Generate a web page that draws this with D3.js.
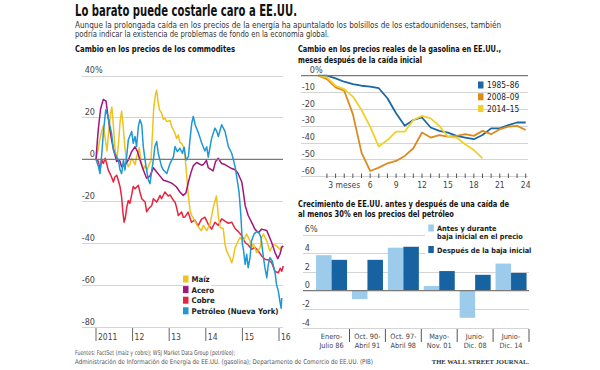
<!DOCTYPE html>
<html lang="es">
<head>
<meta charset="utf-8">
<title>Lo barato puede costarle caro a EE.UU.</title>
<style>
  body { margin:0; background:#fff; }
  svg { display:block; font-family:"Liberation Sans Narrow","DejaVu Sans Condensed",sans-serif; }
  .grid { stroke:#d4d4d4; stroke-width:1; shape-rendering:crispEdges; }
  .zero { stroke:#7a7a7a; stroke-width:1.2; }
  .tick { font-size:9px; fill:#444; }
  .hed { font-weight:bold; fill:#111; }
</style>
</head>
<body>
<div id="chart"></div>
<script src="https://d3js.org/d3.v7.min.js"></script>
<script>
// --- commodities: [months since Jan 2011, % change]
var maiz = [[0,0],[0.6,4],[1.2,9],[1.8,13],[2.4,16],[3.0,10],[3.6,4],[4.2,14],[4.8,22],[5.2,25],[5.6,18],[6.2,6],[6.8,-1],[7.4,8],[7.9,18],[8.4,23],[8.9,16],[9.5,5],[10.1,-1],[10.6,-3.5],[11.2,-2],[11.7,0.5],[12.3,-1],[12.8,-2.5],[13.3,1],[14.2,5.5],[14.7,-0.5],[15.5,-5],[16.1,-3],[16.8,-5],[17.5,-2],[18.0,-1],[18.5,12],[18.9,24],[19.5,31],[19.9,33],[20.3,28],[20.8,23.7],[21.5,22],[22.1,19],[22.6,19.7],[23.2,18],[24.3,18.5],[24.8,15.7],[25.4,14],[25.9,12.5],[26.4,10],[27,11.7],[27.5,8],[28.1,7.7],[28.6,6],[29.2,1.3],[29.7,-7],[30.2,-16],[30.8,-24],[31.4,-27],[31.9,-28],[33,-31],[34.1,-33.3],[34.6,-34],[35.2,-31.5],[36.3,-34],[37.4,-30.8],[38.5,-22.8],[39,-20],[39.5,-17.5],[40.1,-27],[40.7,-32.5],[41.7,-33],[42.3,-40.5],[42.8,-43.7],[43.9,-46.9],[44.5,-49.3],[45,-46.9],[45.6,-42.1],[46.1,-40.5],[47.2,-37.3],[48.3,-38.9],[49.4,-35.7],[50.5,-38.9],[51,-42.1],[51.6,-40.5],[52.7,-44.5],[53.8,-42.1],[54.3,-37.3],[54.9,-35.7],[56,-38.9],[57,-43.7],[58.1,-40.5],[59.2,-41.3],[60.3,-42.9],[60.9,-41.3]];
var acero = [[0,0],[0.4,8],[0.8,15],[1.5,24],[2.4,28.6],[3.3,27.8],[3.8,22],[4.4,15.7],[5.1,9.3],[5.9,3.7],[6.8,-1],[7.7,-0.3],[8.4,-3.5],[9.5,-2.7],[10.6,-0.3],[11.7,3.7],[12.8,6],[13.6,3.7],[14.4,-0.3],[15.5,-5],[16.6,-9],[17.7,-8],[18.8,-4],[19.9,-6],[21,-8],[22.1,-10],[23.2,-10.5],[24.3,-11],[25.4,-12],[26.4,-13.2],[27.5,-15.6],[28.6,-17.2],[29.5,-16],[30.3,-10.8],[31.2,-6],[31.9,-3],[33,-1.5],[34.6,-2.8],[35.2,-2.5],[36.2,-0.5],[36.8,-4],[38.4,-5.5],[39.2,-1],[40.1,0.5],[41.2,-2],[42.3,-2.5],[43.4,-3.5],[44.5,-4.4],[45.6,-5],[46.5,-6.5],[47.8,-10.8],[48.3,-15.6],[48.9,-22],[49.9,-26.8],[51,-30],[52.1,-33.3],[53.2,-35],[54.3,-33.3],[56,-34],[57.6,-39.7],[58.7,-44.5],[59.6,-47.4],[60.3,-45.3],[60.9,-42],[61.4,-41.3]];
var cobre = [[0,0],[0.8,-1],[1.3,-5],[1.9,-0.3],[2.4,-2],[3,0.5],[3.5,-2],[4,-5],[4.6,-6.8],[5.1,-8.4],[5.7,-10.8],[6.2,-8.4],[6.8,-7.6],[7.3,-10],[7.9,-13.2],[8.4,-18],[8.8,-25],[9.2,-30],[9.6,-28],[10.1,-22.8],[10.6,-19.6],[11.1,-21],[11.7,-17],[12.2,-13],[12.8,-14],[13.9,-12.4],[14.4,-15.6],[15,-18.8],[16.1,-20.4],[16.6,-25],[17.2,-23.6],[18.3,-22],[18.8,-18.8],[19.9,-20.4],[21,-17.2],[21.5,-18.8],[22.6,-15.6],[23.7,-17.5],[24.3,-17],[25.4,-19.6],[25.9,-20.4],[26.4,-22.8],[27,-26.8],[28.1,-25.2],[28.6,-27.6],[29.2,-27.5],[30.2,-25.2],[31.3,-30],[32.4,-29],[33.5,-31.7],[34.6,-28.5],[35.7,-27.6],[36.8,-31],[37.9,-33.3],[39,-30],[40.1,-31.5],[41.2,-28.4],[42.3,-29.5],[43.4,-30.5],[44.5,-30],[45.6,-33],[46.7,-34.5],[47.8,-36.5],[48.9,-39.7],[50,-41],[51,-42.9],[52.1,-42],[53.2,-43.7],[54.3,-46.1],[55.4,-47.7],[56.5,-48],[57.6,-49.3],[58.7,-53.5],[59.8,-54.1],[60.4,-52],[60.9,-53.4],[61.4,-50.9]];
var petroleo = [[0,0],[0.8,-3.5],[1.3,-6.8],[1.9,2.8],[2.4,12.5],[3.2,23.7],[3.8,21.3],[4.6,15.7],[5.1,12.5],[5.7,4.5],[6.4,2.1],[7.3,-0.3],[7.9,-5.1],[8.4,-6.8],[9,-0.3],[9.5,-5.1],[10.1,2.1],[10.6,9.3],[11.7,13.3],[12.2,7.7],[12.8,10.9],[13.3,6.1],[13.9,15.7],[14.4,18.9],[15,16.5],[15.5,6.1],[16.4,-3.5],[17.2,-10],[17.7,-11.6],[18.3,-5.1],[18.8,-0.3],[19.3,6.1],[19.9,8.5],[20.4,2.9],[21.5,-3.5],[22.1,-5.1],[23.2,-6.8],[24.3,-1.9],[25.4,1.3],[25.9,6.1],[26.7,3.7],[27.5,5.3],[28.3,2.9],[28.9,5.8],[29.5,-0.3],[30.3,1.3],[30.8,9.3],[31.4,17.3],[31.9,20.5],[32.5,16.5],[33.6,12.5],[34.6,8],[35.7,4],[36.3,6],[36.8,1],[37.9,10],[39,14.9],[39.6,13.3],[40.1,10.9],[41.2,16.5],[42.3,13.3],[43.4,6.1],[44.5,2.9],[45.6,-3.5],[46.1,-8],[46.9,-15.6],[47.5,-26.8],[48,-40.5],[48.4,-43.7],[48.9,-50.1],[49.4,-45.3],[49.9,-51.7],[50.5,-46.9],[51,-38.9],[51.8,-35.7],[52.7,-34.4],[53.4,-34.9],[54.1,-37.3],[54.9,-46.9],[55.4,-51.7],[56,-56.5],[56.5,-50.1],[57,-46.9],[57.8,-48.5],[58.7,-54.1],[59.2,-59.8],[59.8,-63],[60.3,-67.8],[60.7,-71],[60.9,-66.2]];
var commodNames = ["Maíz","Acero","Cobre","Petróleo (Nueva York)"];
var commodColors = ["#eec21f","#a0167c","#e6243f","#1e98d5"];
var commodTicks = [40,20,0,-20,-40,-60,-80];
var yearTicks = [0,12,24,36,48,60];
var yearLabels = ["2011","12","13","14","15","16"];

// --- gasoline, months after the initial drop
var gasMonths = d3.range(0,25);
var gas1985 = [0,0,-1.6,-3.6,-5,-6,-6.5,-7.5,-13.5,-22.5,-30,-26.5,-25,-31,-33,-34,-36,-37,-38,-35.5,-31.5,-31.5,-29.5,-28,-28];
var gas2008 = [0,-2,-7,-9,-23,-46,-57,-55,-52.4,-51,-48,-43.4,-34,-37,-35.5,-36.5,-36,-35,-36,-33,-35,-32,-30.5,-30,-32.5];
var gas2014 = [0,-1,-6,-8,-12.5,-20.5,-30.5,-42.4,-38.5,-33.5,-33.5,-26.5,-24,-25.5,-30,-36.5,-37,-41,-44.5,-49.5];
var gasNames = ["1985–86","2008–09","2014–15"];
var gasColors = ["#1b67a3","#dc8a1d","#f0d12c"];
var gasTicks = [0,-10,-20,-30,-40,-50,-60];
var gasLabelMonths = [3,6,9,12,15,18,21,24];

// --- US growth around oil drops
var periodTop = ["Enero-","Oct. 90-","Oct. 97-","Mayo-","Junio-","Junio-"];
var periodBottom = ["Julio 86","Abril 91","Abril 98","Nov. 01","Dic. 08","Dic. 14"];
var antes = [3.8,-0.9,4.6,0.5,-2.9,2.9];
var despues = [3.3,3.3,4.7,2.1,1.7,1.9];
var growthTicks = [6,4,2,0,-2,-4];

var LX = 75, RX = 298;

var svg = d3.select("#chart").append("svg")
    .attr("width", 600)
    .attr("height", 370);

// text helper: pins the width so the line keeps the reference's measure
function fitText(sel, x, y, txt, w, size, cls){
  return sel.append("text").attr("class", cls || null)
      .attr("x", x).attr("y", y)
      .attr("textLength", w).attr("lengthAdjust", "spacingAndGlyphs")
      .style("font-size", size + "px")
      .text(txt);
}

// headline
fitText(svg, LX, 15.5, "Lo barato puede costarle caro a EE.UU.", 222, 15.5, "hed");
fitText(svg, LX, 27.5, "Aunque la prolongada caída en los precios de la energía ha apuntalado los bolsillos de los estadounidenses, también", 426, 9.5)
    .style("fill","#333");
fitText(svg, LX, 37, "podría indicar la existencia de problemas de fondo en la economía global.", 254, 9.5)
    .style("fill","#333");

// ===== left: commodities =====
fitText(svg, LX, 52, "Cambio en los precios de los commodites", 160, 9.5, "hed");

var x1 = d3.scaleLinear().domain([0,60]).range([96,279]);
var y1 = d3.scaleLinear().domain([-80,40]).range([327,75.5]);

var g1 = svg.append("g");
g1.selectAll("line.grid").data(commodTicks.filter(function(d){ return d != 0; })).enter().append("line")
    .attr("class","grid")
    .attr("x1",82).attr("x2",283)
    .attr("y1",function(d){ return Math.round(y1(d)) + 0.5; })
    .attr("y2",function(d){ return Math.round(y1(d)) + 0.5; });
g1.selectAll("text.tick").data(commodTicks).enter().append("text")
    .attr("class","tick").attr("x",95).attr("y",function(d){ return y1(d) - 2.5; })
    .attr("text-anchor","end").text(function(d){ return d; });
g1.append("text").attr("class","tick").attr("x",95).attr("y",y1(40) - 2.5).text("%");

g1.selectAll("line.yr").data(yearTicks).enter().append("line")
    .attr("x1",function(d){ return x1(d); }).attr("x2",function(d){ return x1(d); })
    .attr("y1",328).attr("y2",341).attr("stroke","#666");
g1.selectAll("text.yr").data(yearTicks).enter().append("text")
    .attr("class","tick").attr("x",function(d){ return x1(d) + 2; }).attr("y",340)
    .style("font-size","8.5px")
    .text(function(d,i){ return yearLabels[i]; });

var commodLine = d3.line().x(function(d){ return x1(d[0]); }).y(function(d){ return y1(d[1]); });
var commodSeries = [cobre, maiz, acero, petroleo];
var commodOrder = [2, 0, 1, 3];
commodSeries.forEach(function(s, i){
  g1.append("path").datum(s)
      .attr("d", commodLine)
      .attr("fill","none")
      .attr("stroke", commodColors[commodOrder[i]])
      .attr("stroke-width",1.5)
      .attr("stroke-linejoin","round");
});
g1.append("line").attr("class","zero").attr("x1",82).attr("x2",283)
    .attr("y1",y1(0)).attr("y2",y1(0));

// legend
var leg1 = g1.selectAll("g.leg").data(commodNames).enter().append("g")
    .attr("transform",function(d,i){ return "translate(183," + (279 + i*10.6) + ")"; });
leg1.append("rect").attr("x",6).attr("y",-5).attr("height",10).attr("fill","#fff")
    .attr("width",function(d){ return d.length * 3.6 + 4; });
leg1.append("rect").attr("x",0).attr("y",-3.5).attr("width",5.5).attr("height",7)
    .attr("fill",function(d,i){ return commodColors[i]; });
leg1.append("text").attr("x",8.5).attr("y",3)
    .style("font-size","7.8px").style("font-weight","bold").style("fill","#222")
    .text(function(d){ return d; });

// ===== right top: gasoline =====
fitText(svg, RX, 52, "Cambio en los precios reales de la gasolina en EE.UU.,", 203, 9.5, "hed");
fitText(svg, RX, 62.5, "meses después de la caída inicial", 124, 9.5, "hed");

var x2 = d3.scaleLinear().domain([0,24]).range([318.3,525.7]);
var y2 = d3.scaleLinear().domain([-60,0]).range([176,75.7]);

var g2 = svg.append("g");
g2.selectAll("line.grid").data(gasTicks.filter(function(d){ return d != 0; })).enter().append("line")
    .attr("class","grid")
    .attr("x1",301).attr("x2",528)
    .attr("y1",function(d){ return Math.round(y2(d)) + 0.5; })
    .attr("y2",function(d){ return Math.round(y2(d)) + 0.5; });
g2.selectAll("text.tick").data(gasTicks).enter().append("text")
    .attr("class","tick").attr("x",315).attr("y",function(d){ return y2(d) - 2.5; })
    .attr("text-anchor","end").text(function(d){ return d; });
g2.append("text").attr("class","tick").attr("x",315).attr("y",y2(0) - 2.5).text("%");

g2.selectAll("line.mt").data(gasMonths.slice(1)).enter().append("line")
    .attr("x1",function(d){ return x2(d); }).attr("x2",function(d){ return x2(d); })
    .attr("y1",y2(-60) - 2.5).attr("y2",y2(-60) + 2).attr("stroke","#555");
g2.selectAll("text.mt").data(gasLabelMonths).enter().append("text")
    .attr("class","tick").attr("x",function(d){ return x2(d); }).attr("y",188)
    .attr("text-anchor","middle").style("font-size","8.5px")
    .text(function(d){ return d == 3 ? "3 meses" : d; });

var gasLine = d3.line().x(function(d,i){ return x2(gasMonths[i]); }).y(function(d){ return y2(d); });
[gas1985, gas2008, gas2014].forEach(function(s, i){
  g2.append("path").datum(s)
      .attr("d", gasLine)
      .attr("fill","none")
      .attr("stroke", gasColors[i])
      .attr("stroke-width",1.8)
      .attr("stroke-linejoin","round");
});
g2.append("line").attr("class","zero").attr("x1",301).attr("x2",528)
    .attr("y1",y2(0)).attr("y2",y2(0));

var leg2 = g2.selectAll("g.leg").data(gasNames).enter().append("g")
    .attr("transform",function(d,i){ return "translate(478," + (85 + i*11.8) + ")"; });
leg2.append("rect").attr("x",0).attr("y",-3.5).attr("width",5.5).attr("height",7)
    .attr("fill",function(d,i){ return gasColors[i]; });
leg2.append("text").attr("x",9).attr("y",3.2)
    .style("font-size","8.3px").style("fill","#222")
    .text(function(d){ return d; });

// ===== right bottom: growth =====
fitText(svg, RX, 207, "Crecimiento de EE.UU. antes y después de una caída de", 211, 9.5, "hed");
fitText(svg, RX, 217, "al menos 30% en los precios del petróleo", 156, 9.5, "hed");

var xb = d3.scaleBand().domain(d3.range(periodTop.length)).range([313.6,529])
    .paddingInner(0.136).paddingOuter(0.068);
var yb = d3.scaleLinear().domain([-4,6]).range([328.1,234.6]);
var bw = xb.bandwidth() / 2;

var g3 = svg.append("g");
g3.selectAll("line.grid").data(growthTicks.filter(function(d){ return d != 0; })).enter().append("line")
    .attr("class","grid")
    .attr("x1",303).attr("x2",529)
    .attr("y1",function(d){ return Math.round(yb(d)) + 0.5; })
    .attr("y2",function(d){ return Math.round(yb(d)) + 0.5; });
g3.selectAll("text.tick").data(growthTicks).enter().append("text")
    .attr("class","tick").attr("x",310).attr("y",function(d){ return yb(d) - 2.5; })
    .attr("text-anchor","end").text(function(d){ return d; });
g3.append("text").attr("class","tick").attr("x",310).attr("y",yb(6) - 2.5).text("%");

g3.selectAll("rect.antes").data(antes).enter().append("rect")
    .attr("x",function(d,i){ return xb(i); })
    .attr("y",function(d){ return yb(Math.max(0,d)); })
    .attr("width",bw)
    .attr("height",function(d){ return Math.abs(yb(d) - yb(0)); })
    .attr("fill","#9ccbec");
g3.selectAll("rect.despues").data(despues).enter().append("rect")
    .attr("x",function(d,i){ return xb(i) + bw; })
    .attr("y",function(d){ return yb(Math.max(0,d)); })
    .attr("width",bw)
    .attr("height",function(d){ return Math.abs(yb(d) - yb(0)); })
    .attr("fill","#1762a0");
g3.append("line").attr("class","zero").attr("x1",303).attr("x2",529)
    .attr("y1",yb(0)).attr("y2",yb(0));

var gap = xb.step() - xb.bandwidth();
g3.selectAll("line.div").data(periodTop).enter().append("line")
    .attr("x1",function(d,i){ return xb(i) + xb.bandwidth() + gap/2; })
    .attr("x2",function(d,i){ return xb(i) + xb.bandwidth() + gap/2; })
    .attr("y1",329).attr("y2",342).attr("stroke","#555");
g3.selectAll("text.p1").data(periodTop).enter().append("text")
    .attr("class","tick").attr("x",function(d,i){ return xb(i) + xb.bandwidth()/2; })
    .attr("y",338.5).attr("text-anchor","middle").style("font-size","7.3px")
    .text(function(d){ return d; });
g3.selectAll("text.p2").data(periodBottom).enter().append("text")
    .attr("class","tick").attr("x",function(d,i){ return xb(i) + xb.bandwidth()/2; })
    .attr("y",347.5).attr("text-anchor","middle").style("font-size","7.3px")
    .text(function(d){ return d; });

g3.append("rect").attr("x",425).attr("y",221).attr("width",105).attr("height",35).attr("fill","#fff");
g3.append("rect").attr("x",428.3).attr("y",224.5).attr("width",5.5).attr("height",7).attr("fill","#9ccbec");
g3.append("rect").attr("x",428.3).attr("y",246).attr("width",5.5).attr("height",7).attr("fill","#1762a0");
var legTxt = [["Antes y durante",230.5],["baja inicial en el precio",238.5],["Después de la baja inicial",252.5]];
g3.selectAll("text.leg").data(legTxt).enter().append("text")
    .attr("x",437).attr("y",function(d){ return d[1]; })
    .style("font-size","7.3px").style("font-weight","bold").style("fill","#222")
    .text(function(d){ return d[0]; });

// footer
fitText(svg, LX, 355, "Fuentes: FactSet (maíz y cobre); WSJ Market Data Group (petróleo);", 160, 6.6)
    .style("fill","#555");
fitText(svg, LX, 364, "Administración de Información de Energía de EE.UU. (gasolina); Departamento de Comercio de EE.UU. (PIB)", 298, 6.6)
    .style("fill","#555");
svg.append("text").attr("x",529).attr("y",364).attr("text-anchor","end")
    .style("font-family","'Liberation Serif','DejaVu Serif',serif")
    .style("font-size","6.6px").style("font-weight","bold").style("fill","#333")
    .text("THE WALL STREET JOURNAL.");
</script>
</body>
</html>
